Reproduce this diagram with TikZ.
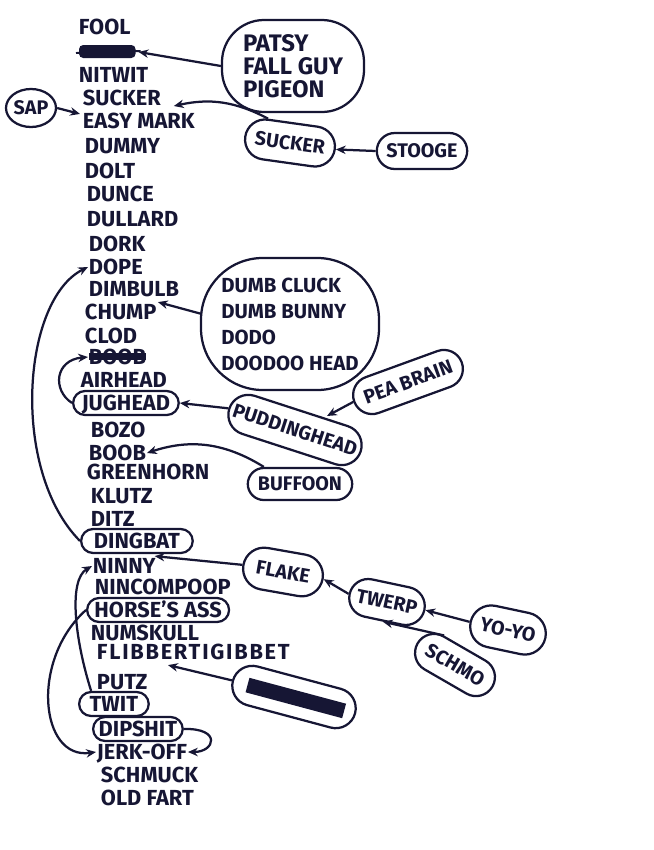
\documentclass[tikz,border=0pt]{standalone}
\usepackage{fontspec}
\setmainfont{Fira Sans}
\usepackage{tikz}
\definecolor{ink}{RGB}{22,22,52}
\usetikzlibrary{arrows.meta,positioning,shapes.geometric,shapes.misc,calc}

\begin{document}
\begin{tikzpicture}[x=0.025cm,y=-0.025cm,
  word/.style={anchor=west,inner sep=0.5pt,text height=11pt,text depth=0.5pt,text=ink,
    font=\fontsize{15.5}{16}\selectfont\bfseries},
  ringword/.style={word,draw=ink,line width=1.6pt,rounded rectangle,inner xsep=3pt,
    minimum height=0.6cm},
  blob/.style={draw=ink,line width=1.6pt,rounded rectangle,inner xsep=2pt,inner ysep=1pt,
    text height=10pt,text depth=0.5pt,text=ink,font=\fontsize{14}{15}\selectfont\bfseries},
  cloudbox/.style={draw=ink,line width=1.6pt,rectangle,align=left,text=ink,inner sep=4pt},
  linkarr/.style={-{Stealth[length=7pt,width=6pt]},line width=1.6pt,draw=ink}
]
  \useasboundingbox (0,0) rectangle (653,850);

  % main column
  \node[word] (fool) at (78,27) {FOOL};
  \node[word,minimum width=1.55cm] (scrA) at (76,52) {};
  \fill[ink,rounded corners=3pt] ($(scrA.west)+(3,-7)$) rectangle ($(scrA.east)+(-3,6)$);
  \draw[ink,line width=1.4pt] ($(scrA.west)+(0,1)$) -- ($(scrA.east)+(2,-1)$);
  \node[word] (nitwit) at (78,75) {NITWIT};
  \node[word] (sucker) at (82,98) {SUCKER};
  \node[word] (easymark) at (82,121) {EASY MARK};
  \node[word] (dummy) at (84,146) {DUMMY};
  \node[word] (dolt) at (84,171) {DOLT};
  \node[word] (dunce) at (86,194) {DUNCE};
  \node[word] (dullard) at (86,219) {DULLARD};
  \node[word] (dork) at (88,244) {DORK};
  \node[word] (dope) at (88,267) {DOPE};
  \node[word] (dimbulb) at (88,289) {DIMBULB};
  \node[word] (chump) at (84,312) {CHUMP};
  \node[word] (clod) at (84,336) {CLOD};
  \node[word] (scrB) at (88,357) {BOOB};
  \fill[ink] ($(scrB.west)+(1,-4)$) rectangle ($(scrB.east)+(-1,3)$);
  \node[word] (airhead) at (80,380) {AIRHEAD};
  \node[ringword,minimum width=2.85cm] (jughead) at (72,403) {JUGHEAD};
  \node[word] (bozo) at (90,430) {BOZO};
  \node[word] (boob) at (88,453) {BOOB};
  \node[word] (greenhorn) at (86,472) {GREENHORN};
  \node[word] (klutz) at (90,496) {KLUTZ};
  \node[word] (ditz) at (90,519) {DITZ};
  \node[ringword,minimum width=3cm] (dingbat) at (80,541) {DINGBAT};
  \node[word] (ninny) at (92,566) {NINNY};
  \node[word] (nincom) at (94,587) {NINCOMPOOP};
  \node[ringword,minimum width=3.5cm] (horse) at (86,610) {HORSE'S ASS};
  \node[word] (numskull) at (90,633) {NUMSKULL};
  \node[word,font=\fontsize{15.5}{16}\selectfont\bfseries\addfontfeature{LetterSpace=8}]
    (flibber) at (96,652) {FLIBBERTIGIBBET};
  \node[word] (putz) at (96,682) {PUTZ};
  \node[ringword,minimum width=1.95cm] (twit) at (78,704) {TWIT};
  \node[ringword,minimum width=2.45cm] (dipshit) at (92,729) {DIPSHIT};
  \node[word] (jerkoff) at (96,752) {JERK-OFF};
  \node[word] (schmuck) at (100,775) {SCHMUCK};
  \node[word] (oldfart) at (100,798) {OLD FART};

  % side ovals
  \node[cloudbox,rounded corners=30pt,font=\fontsize{17}{16.5}\selectfont\bfseries,
    minimum width=3.55cm,minimum height=2.3cm] (patsy) at (293,66) {PATSY\\FALL GUY\\PIGEON};
  \node[blob,rounded rectangle=none,ellipse,minimum width=1.25cm,minimum height=0.95cm,
    inner sep=0pt] (sap) at (31,108) {SAP};
  \node[blob,rotate=-8,minimum width=2.4cm,minimum height=1cm] (sucktwo) at (290,143) {SUCKER};
  \node[blob,minimum width=2.4cm,minimum height=0.9cm] (stooge) at (422,151) {STOOGE};
  \node[cloudbox,rounded corners=44pt,font=\fontsize{14.5}{18.5}\selectfont\bfseries,
    minimum width=4.45cm,minimum height=3.3cm] (dumb) at (290,324)
    {DUMB CLUCK\\DUMB BUNNY\\DODO\\DOODOO HEAD};
  \node[blob,rotate=20,minimum width=3cm,minimum height=0.95cm] (peabrain) at (408,382) {PEA BRAIN};
  \node[blob,rotate=-18,minimum height=1cm] (pudding) at (295,430) {PUDDINGHEAD};
  \node[blob,minimum width=2.75cm,minimum height=0.8cm] (buffoon) at (300,484) {BUFFOON};
  \node[blob,rotate=-10,minimum width=2.15cm,minimum height=1.05cm] (flake) at (283,572) {FLAKE};
  \node[blob,rotate=-12,minimum width=2.05cm,minimum height=0.95cm] (twerp) at (387,602) {TWERP};
  \node[blob,rotate=-12,minimum width=2.05cm,minimum height=1.05cm] (yoyo) at (508,630) {YO-YO};
  \node[blob,rotate=-30,minimum width=2.3cm,minimum height=0.95cm] (schmo) at (455,665) {SCHMO};
  \node[blob,rotate=-15,minimum width=3.3cm,minimum height=1cm] (scrC) at (294,697) {};
  \fill[ink,rotate around={-15:(294,697)}] (246,690) rectangle (346,705);

  % arrows from the side ovals
  \draw[linkarr] (patsy.west) -- (scrA.east);
  \draw[linkarr] (sap.east) -- ($(easymark.north west)+(-2,2)$);
  \draw[linkarr] (sucktwo.north west) to[bend right=20] ($(sucker.east)+(12,8)$);
  \draw[linkarr] (stooge.west) -- (sucktwo.east);
  \draw[linkarr] ($(dumb.west)+(2,-10)$) -- ($(dimbulb.south east)+(-22,4)$);
  \draw[linkarr] (peabrain.west) -- ($(pudding.center)+(32,-14)$);
  \draw[linkarr] (pudding.west) -- (jughead.east);
  \draw[linkarr] (buffoon.north west) to[bend right=25] (boob.east);
  \draw[linkarr] (flake.west) -- ($(dingbat.south east)+(-26,2)$);
  \draw[linkarr] (twerp.west) -- (flake.east);
  \draw[linkarr] (yoyo.west) -- (twerp.east);
  \draw[linkarr] (schmo.north west) -- (twerp.south);
  \draw[linkarr] (scrC.west) -- ($(flibber.south west)+(72,4)$);

  % loops on the left
  \draw[linkarr] (dingbat.west) .. controls (10,470) and (22,300) .. (dope.west);
  \draw[linkarr] (jughead.west) .. controls (52,390) and (55,360) .. (scrB.west);
  \draw[linkarr] (twit.north west) .. controls (75,640) and (68,580) .. (ninny.west);
  \draw[linkarr] (horse.west) .. controls (30,660) and (40,760) .. (jerkoff.west);
  \draw[linkarr] (dipshit.east) .. controls (222,728) and (215,752) .. (jerkoff.east);
\end{tikzpicture}
\end{document}
